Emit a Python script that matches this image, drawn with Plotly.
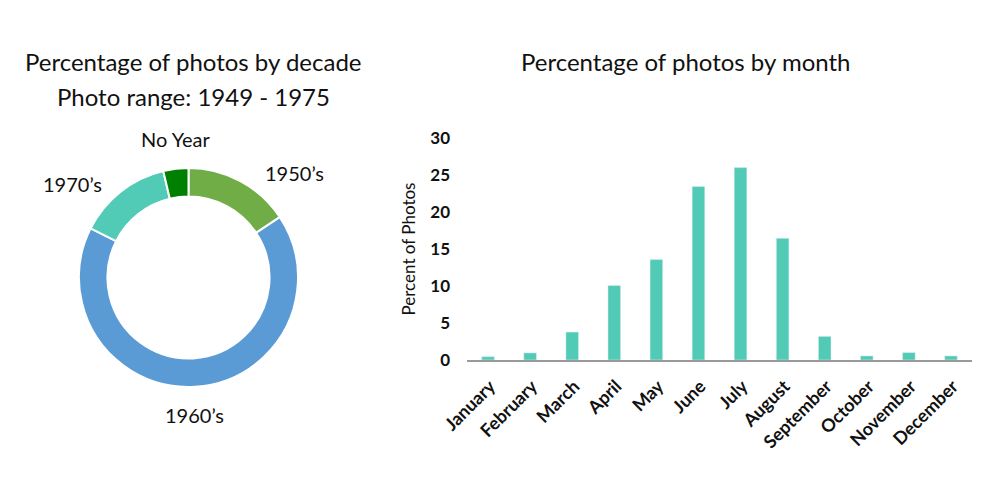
import plotly.graph_objects as go

decades = ["1950\u2019s", "1960\u2019s", "1970\u2019s", "No Year"]
decade_pct = [15.7, 66.7, 13.9, 3.7]
decade_colors = ["#70AD47", "#5B9BD5", "#52CBB6", "#008000"]
label_pos = [(294, 173), (194, 415), (72, 184), (175, 139)]

months = ["January", "February", "March", "April", "May", "June", "July",
          "August", "September", "October", "November", "December"]
month_pct = [0.45, 0.96, 3.78, 10.06, 13.57, 23.45, 26.0, 16.44, 3.19, 0.55, 1.0, 0.55]
y_ticks = [0, 5, 10, 15, 20, 25, 30]

W, H = 999, 480
FONT = "Lato"
TXT = "#111111"

fig = go.Figure()
fig.add_trace(go.Pie(
    labels=decades, values=decade_pct, hole=0.74, sort=False, direction="clockwise",
    rotation=0, marker=dict(colors=decade_colors, line=dict(color="white", width=2)),
    textinfo="none", hoverinfo="label+percent", showlegend=False,
    domain=dict(x=[79 / W, 298 / W], y=[(H - 387) / H, (H - 168) / H]),
))
fig.add_trace(go.Bar(
    x=months, y=month_pct, marker=dict(color="#52CBB6"), showlegend=False,
    xaxis="x", yaxis="y",
))

annotations = []
for lab, (px, py) in zip(decades, label_pos):
    annotations.append(dict(x=px / W, y=(H - py) / H, xref="paper", yref="paper",
                            text=lab, showarrow=False, xanchor="center", yanchor="middle",
                            font=dict(family=FONT, size=20, color=TXT)))
for txt, px, py in [("Percentage of photos by decade", 193, 62),
                    ("Photo range: 1949 - 1975", 193, 97),
                    ("Percentage of photos by month", 685, 62)]:
    annotations.append(dict(x=px / W, y=(H - py) / H, xref="paper", yref="paper",
                            text=txt, showarrow=False, xanchor="center", yanchor="middle",
                            font=dict(family=FONT, size=24, color=TXT)))

fig.update_layout(
    width=W, height=H, margin=dict(l=0, r=0, t=0, b=0, autoexpand=False),
    paper_bgcolor="white", plot_bgcolor="white",
    bargap=0.7,
    xaxis=dict(domain=[467 / W, 972 / W], tickangle=-45, showgrid=False, automargin=False,
               showline=True, linecolor="#9A9A9A", linewidth=1.5, ticks="",
               ticklabelshift=2, ticklabelstandoff=7,
               tickfont=dict(family=FONT, size=18, color=TXT, weight="bold")),
    yaxis=dict(domain=[(H - 360) / H, (H - 138) / H], range=[0, 30], tickvals=y_ticks,
               showgrid=False, zeroline=False, showline=False, ticks="", automargin=False,
               ticklabelstandoff=16,
               tickfont=dict(family=FONT, size=17, color=TXT, weight="bold"),
               title=dict(text="Percent of Photos", standoff=10,
                          font=dict(family=FONT, size=17, color=TXT))),
    annotations=annotations,
)

fig.write_html("out.html")
